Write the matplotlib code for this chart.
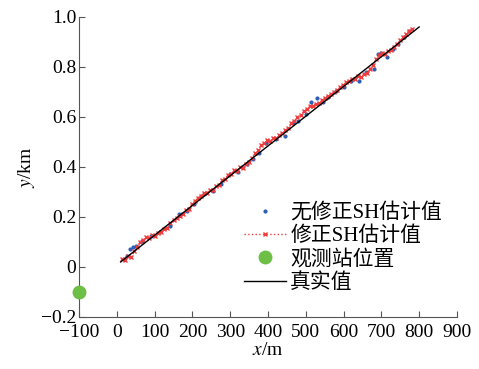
import matplotlib
matplotlib.use("Agg")
import matplotlib.pyplot as plt

plt.rcParams['font.family'] = ['Liberation Serif', 'Noto Sans CJK SC']
plt.rcParams['mathtext.fontset'] = 'stix'

# true track (m, km)
true_x = [10, 800]
true_y = [0.02, 0.96]

# corrected SH estimates
corr_x = [14, 22, 30, 38, 46, 54, 62, 70, 78, 86, 94, 102, 110, 118, 126,
          134, 142, 150, 158, 166, 174, 182, 190, 198, 206, 214, 222, 230,
          238, 246, 254, 262, 270, 278, 286, 294, 302, 310, 318, 326, 334,
          342, 350, 358, 366, 374, 382, 390, 398, 406, 414, 422, 430, 438,
          446, 454, 462, 470, 478, 486, 494, 502, 510, 518, 526, 534, 542,
          550, 558, 566, 574, 582, 590, 598, 606, 614, 622, 630, 638, 646,
          654, 662, 670, 678, 686, 694, 702, 710, 718, 726, 734, 742, 750,
          758, 766, 774, 782]
corr_y = [0.030, 0.028, 0.042, 0.038, 0.062, 0.078, 0.100, 0.108, 0.118,
          0.114, 0.126, 0.122, 0.136, 0.140, 0.150, 0.156, 0.176, 0.186,
          0.196, 0.204, 0.210, 0.226, 0.232, 0.252, 0.262, 0.276, 0.284,
          0.296, 0.296, 0.308, 0.306, 0.322, 0.328, 0.346, 0.352, 0.368,
          0.370, 0.386, 0.384, 0.398, 0.396, 0.412, 0.418, 0.436, 0.454,
          0.468, 0.486, 0.494, 0.506, 0.502, 0.516, 0.514, 0.528, 0.534,
          0.548, 0.556, 0.574, 0.584, 0.600, 0.606, 0.622, 0.630, 0.642,
          0.644, 0.652, 0.656, 0.666, 0.674, 0.684, 0.690, 0.700, 0.706,
          0.718, 0.726, 0.738, 0.742, 0.752, 0.750, 0.762, 0.758, 0.772,
          0.776, 0.792, 0.806, 0.832, 0.846, 0.856, 0.852, 0.862, 0.866,
          0.880, 0.890, 0.906, 0.918, 0.932, 0.942, 0.952]

# uncorrected SH estimates
raw_x = [18, 26, 34, 42, 50, 66, 90, 115, 140, 165, 185, 205, 230, 255,
         275, 300, 320, 345, 360, 375, 395, 420, 445, 465, 480, 500, 515,
         530, 545, 560, 580, 600, 620, 640, 660, 680, 690, 700, 715, 730,
         745, 760, 772]
raw_y = [0.030, 0.045, 0.070, 0.080, 0.085, 0.105, 0.125, 0.140, 0.165,
         0.210, 0.225, 0.250, 0.290, 0.305, 0.330, 0.370, 0.380, 0.410,
         0.430, 0.455, 0.495, 0.510, 0.525, 0.575, 0.585, 0.610, 0.660,
         0.675, 0.660, 0.680, 0.705, 0.720, 0.745, 0.745, 0.780, 0.790,
         0.850, 0.855, 0.840, 0.870, 0.890, 0.920, 0.945]

# observation station
station_x = [-100]
station_y = [-0.1]

fig = plt.figure(figsize=(4.79, 3.69), dpi=100)
ax = fig.add_axes([0.165, 0.141, 0.789, 0.813])

ax.plot(raw_x, raw_y, '.', color='#2b5fb4', ms=4, label='无修正SH估计值')
ax.plot(corr_x, corr_y, ':', color='#f03c3c', lw=1.0, marker='x', ms=3.5,
        mew=1.0, label='修正SH估计值')
ax.plot(station_x, station_y, 'o', color='#6dbf45', ms=9, clip_on=False,
        label='观测站位置', zorder=5)
ax.plot(true_x, true_y, '-', color='black', lw=1.0, label='真实值')

ax.set_xlim(-100, 900)
ax.set_ylim(-0.2, 1.0)
ax.set_xticks(range(-100, 901, 100))
ax.set_yticks([-0.2, 0, 0.2, 0.4, 0.6, 0.8, 1.0])
ax.set_yticklabels(['\u22120.2', '0', '0.2', '0.4', '0.6', '0.8', '1.0'])
ax.set_xticklabels(['\u2212100'] + [str(v) for v in range(0, 901, 100)])

for s in ['top', 'right']:
    ax.spines[s].set_visible(False)
for s in ['left', 'bottom']:
    ax.spines[s].set_color('#555555')
ax.tick_params(direction='in', length=4, labelsize=14, color='#555555', pad=2)
ax.tick_params(axis='x', pad=5)

ax.set_xlabel('$x$/m', fontsize=14, labelpad=1)
ax.set_ylabel('$y$/km', fontsize=14, labelpad=3)

ax.legend(loc='upper left', bbox_to_anchor=(0.41, 0.415), frameon=False,
          fontsize=15, handlelength=2.0, handletextpad=0.2, labelspacing=0.18,
          borderpad=0)

fig.savefig('out.png', dpi=100)
